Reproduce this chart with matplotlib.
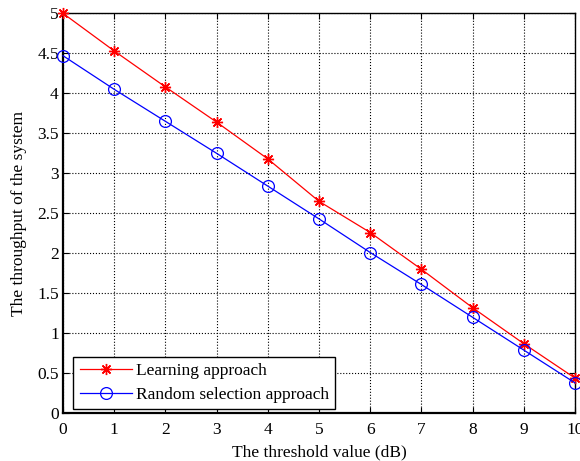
import matplotlib
matplotlib.use("Agg")
import matplotlib.pyplot as plt

# umbral (dB) y throughput para cada enfoque
umbral = [0, 1, 2, 3, 4, 5, 6, 7, 8, 9, 10]
aprendizaje = [5.00, 4.53, 4.08, 3.64, 3.18, 2.65, 2.26, 1.80, 1.32, 0.87, 0.44]
aleatorio = [4.47, 4.05, 3.65, 3.25, 2.84, 2.43, 2.01, 1.61, 1.20, 0.79, 0.38]
yticks = [0, 0.5, 1, 1.5, 2, 2.5, 3, 3.5, 4, 4.5, 5]

plt.rcParams["font.family"] = ["Liberation Serif", "DejaVu Serif"]
plt.rcParams["font.size"] = 12.5

fig = plt.figure(figsize=(5.8, 4.61), dpi=100)
ax = fig.add_axes([0.1086, 0.1035, 0.8828, 0.8676])

# asterisco de 8 brazos, como el '*' de MATLAB
ax.plot(umbral, aprendizaje, "-", marker=(8, 2, 0), color="red", lw=0.9, ms=8,
        markeredgewidth=1.0, label="Learning approach", clip_on=False, zorder=3)
ax.plot(umbral, aleatorio, "-o", color="blue", lw=0.9, ms=8.5,
        markerfacecolor="none", markeredgewidth=0.9,
        label="Random selection approach", clip_on=False, zorder=3)

ax.set_xlim(0, 10)
ax.set_ylim(0, 5)
ax.set_xticks(umbral)
ax.set_yticks(yticks)
ax.set_yticklabels(["%g" % v for v in yticks])
ax.tick_params(direction="in", length=4, width=0.8, top=True, right=True)
ax.tick_params(axis="x", pad=6)
ax.tick_params(axis="y", pad=3)
ax.grid(True, color="black", linestyle=":", linewidth=0.8)
for s in ax.spines.values():
    s.set_linewidth(1.0)
ax.spines["left"].set_linewidth(1.6)
ax.spines["bottom"].set_linewidth(1.6)

ax.set_xlabel("The threshold value (dB)", labelpad=5)
ax.set_ylabel("The throughput of the system", labelpad=7)

leg = ax.legend(loc="lower left", bbox_to_anchor=(0.012, 0.0), fancybox=False,
                edgecolor="black", framealpha=1, borderpad=0.35,
                handlelength=3.0, handletextpad=0.25, labelspacing=0.45,
                borderaxespad=0.25)
leg.get_frame().set_linewidth(1.0)

fig.savefig("out.png", dpi=100)
